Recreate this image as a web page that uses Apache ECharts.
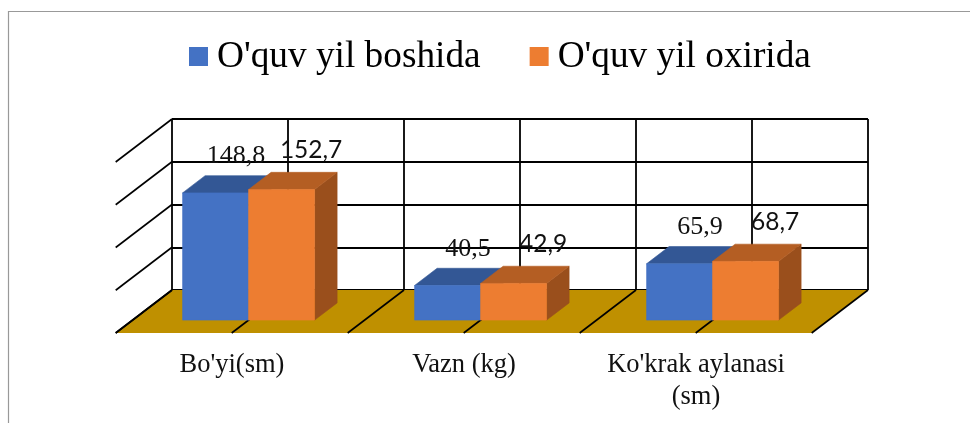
<!DOCTYPE html>
<html>
<head>
<meta charset="utf-8">
<style>html,body{margin:0;padding:0;background:#fff}#c{width:970px;height:423px}</style>
<script src="https://cdn.jsdelivr.net/npm/echarts@6/dist/echarts.min.js"></script>
</head>
<body>
<div id="c"></div>
<script>
var categories = ["Bo'yi(sm)", "Vazn (kg)", "Ko'krak aylanasi\n(sm)"];
var seriesNames = ["O'quv yil boshida", "O'quv yil oxirida"];
var startValues = [148.8, 40.5, 65.9];
var endValues = [152.7, 42.9, 68.7];
var startLabels = ["148,8", "40,5", "65,9"];
var endLabels = ["152,7", "42,9", "68,7"];
var valueTicks = [0, 50, 100, 150, 200];
var floorTicks = [0, 0.5, 1, 1.5, 2, 2.5, 3];

var chart = echarts.init(document.getElementById('c'), null, {renderer: 'canvas'});
var DX = -56.3, DY = 43;           // oblique vector of the full floor depth
var SERIF = '"Liberation Serif","Times New Roman",serif';

function oblique(p, d) { return [p[0] + DX * d, p[1] + DY * d]; }

function barRenderer(seriesIndex, labels, front, side, top, font, labelDx, labelDy) {
  return function (params, api) {
    var cat = api.value(0), val = api.value(1);
    var centre = api.coord([cat, 0]);
    var head = api.coord([cat, val]);
    var band = api.size([1, 0])[0];
    var w = band * 0.2845;
    var near = 0.7, far = 0.3;
    var x0 = seriesIndex === 0 ? centre[0] - w : centre[0];
    var x1 = x0 + w;
    var fb = oblique([x0, centre[1]], near), fb2 = oblique([x1, centre[1]], near);
    var ft = oblique([x0, head[1]], near), ft2 = oblique([x1, head[1]], near);
    var bt = oblique([x0, head[1]], far), bt2 = oblique([x1, head[1]], far);
    var bb2 = oblique([x1, centre[1]], far);
    return {type: 'group', children: [
      {type: 'polygon', shape: {points: [fb2, ft2, bt2, bb2]}, style: {fill: side, stroke: side, lineWidth: 0.6}},
      {type: 'polygon', shape: {points: [ft, bt, bt2, ft2]}, style: {fill: top, stroke: top, lineWidth: 0.6}},
      {type: 'polygon', shape: {points: [fb, fb2, ft2, ft]}, style: {fill: front, stroke: front, lineWidth: 0.6}},
      {type: 'text', x: (ft[0] + ft2[0]) / 2 + labelDx, y: ft[1] + labelDy,
        style: {text: labels[params.dataIndex], fill: '#111', font: font, align: 'center', verticalAlign: 'middle'}}
    ]};
  };
}

var option = {
  animation: false,
  backgroundColor: '#fff',
  legend: {
    show: true,
    top: 34, left: 184,
    itemWidth: 19, itemHeight: 21, itemGap: 49,
    icon: 'path://M0 0H19V19H0Z M0 21L19 21Z',
    textStyle: {fontFamily: SERIF, fontSize: 37.3, color: '#000', padding: [0, 0, 0, 4]},
    data: seriesNames
  },
  grid: [
    {left: 172, top: 119, width: 696, height: 171, containLabel: false},
    {left: 116, top: 162, width: 696, height: 171, containLabel: false}
  ],
  xAxis: [
    {type: 'category', gridIndex: 0, data: categories, boundaryGap: true,
      axisLine: {show: false}, axisTick: {show: false}, axisLabel: {show: false}, splitLine: {show: false}},
    {type: 'value', gridIndex: 0, min: 0, max: 3, interval: 0.5,
      axisLine: {show: false}, axisTick: {show: false}, axisLabel: {show: false},
      splitLine: {show: true, lineStyle: {color: '#000', width: 1.8}}},
    {type: 'category', gridIndex: 1, data: categories, boundaryGap: true,
      axisLine: {show: false}, axisTick: {show: false}, splitLine: {show: false},
      axisLabel: {show: true, interval: 0, margin: 16, fontFamily: SERIF, fontSize: 26.5, color: '#111', lineHeight: 32}}
  ],
  yAxis: [
    {type: 'value', gridIndex: 0, min: 0, max: 200, interval: 50,
      axisLine: {show: false}, axisTick: {show: false}, axisLabel: {show: false},
      splitLine: {show: true, lineStyle: {color: '#000', width: 1.8}}},
    {type: 'value', gridIndex: 1, min: 0, max: 200, show: false}
  ],
  graphic: [
    {type: 'polyline', silent: true, shape: {points: [[8.5, 423], [8.5, 11.5], [970, 11.5]]},
      style: {stroke: '#999', lineWidth: 1.2, fill: null}}
  ],
  series: [
    {type: 'custom', name: 'floor', xAxisIndex: 1, yAxisIndex: 0, z: 1, silent: true,
      data: floorTicks.map(function (t) { return [t]; }),
      renderItem: function (params, api) {
        var t = api.value(0);
        var back = api.coord([t, 0]);
        var kids = [];
        if (params.dataIndex === 0) {
          var end = api.coord([3, 0]);
          kids.push({type: 'polygon', shape: {points: [back, end, oblique(end, 1), oblique(back, 1)]},
            style: {fill: '#BF9000'}});
        }
        kids.push({type: 'line', shape: {x1: back[0], y1: back[1], x2: oblique(back, 1)[0], y2: oblique(back, 1)[1]},
          style: {stroke: '#000', lineWidth: 1.6}});
        return {type: 'group', children: kids};
      }},
    {type: 'custom', name: 'wall', xAxisIndex: 1, yAxisIndex: 0, z: 1, silent: true,
      data: valueTicks.map(function (v) { return [v]; }),
      renderItem: function (params, api) {
        var p = api.coord([0, api.value(0)]);
        var q = oblique(p, 1);
        return {type: 'line', shape: {x1: p[0], y1: p[1], x2: q[0], y2: q[1]}, style: {stroke: '#000', lineWidth: 1.6}};
      }},
    {type: 'custom', name: seriesNames[0], xAxisIndex: 0, yAxisIndex: 0, z: 3,
      itemStyle: {color: '#4472C4'},
      data: startValues.map(function (v, i) { return [i, v]; }),
      renderItem: barRenderer(0, startLabels, '#4472C4', '#2F5597', '#335795', '26px ' + SERIF, 20.5, -36.5)},
    {type: 'custom', name: seriesNames[1], xAxisIndex: 0, yAxisIndex: 0, z: 4,
      itemStyle: {color: '#ED7D31'},
      data: endValues.map(function (v, i) { return [i, v]; }),
      renderItem: barRenderer(1, endLabels, '#ED7D31', '#9A4F1C', '#B45E23', '24.5px Lato, sans-serif', 29.5, -39.5)}
  ]
};
chart.setOption(option);
</script>
</body>
</html>
